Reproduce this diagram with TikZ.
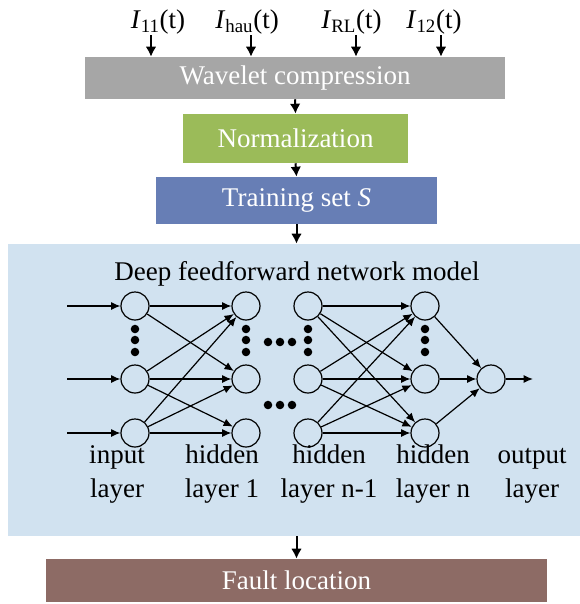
\documentclass[tikz,border=0pt]{standalone}
\usepackage{fontspec}
\setmainfont{Liberation Serif}
\usepackage{tikz}
\usepackage{xcolor}
\usetikzlibrary{arrows.meta}

\definecolor{graybox}{RGB}{166,166,166}
\definecolor{greenbox}{RGB}{155,187,89}
\definecolor{bluebox}{RGB}{103,126,181}
\definecolor{netbg}{RGB}{209,226,240}
\definecolor{brownbox}{RGB}{141,107,101}
\newcommand{\cursig}[1]{\textit{I}\textsubscript{#1}(t)}

\begin{document}
\begin{tikzpicture}[x=0.75pt, y=-0.75pt,
  every node/.style={font=\fontsize{20.25}{25.5}\selectfont},
  stage/.style={inner sep=0pt, text=white},
  flow/.style={-{Latex[length=7.5pt,width=8pt]}, line width=1.5pt},
  link/.style={-{Latex[length=7pt,width=6pt]}, line width=0.9pt},
  neuron/.style={circle, draw, line width=0.9pt, fill=netbg, minimum size=21pt, inner sep=0pt}]
  \useasboundingbox (0,0) rectangle (580,604);
  % processing stages
  \node[stage, fill=graybox, minimum width=315pt, minimum height=31.5pt] (wave) at (295,78) {Wavelet compression};
  \node[stage, fill=greenbox, minimum width=168.75pt, minimum height=36.75pt] (norm) at (295.5,138.5) {Normalization};
  \node[stage, fill=bluebox, minimum width=210.75pt, minimum height=35.25pt] (train) at (296.5,200.5) {Training set \textit{S}};
  \node[fill=netbg, minimum width=429pt, minimum height=219pt, inner sep=0pt] (model) at (294,390) {};
  \node[stage, fill=brownbox, minimum width=375.75pt, minimum height=32.25pt] (fault) at (296.5,580.5) {Fault location};
  % measured currents
  \node[anchor=base] (i11) at (158,28) {\cursig{11}};
  \node[anchor=base] (ihau) at (247,28) {\cursig{hau}};
  \node[anchor=base] (irl) at (351.5,28) {\cursig{RL}};
  \node[anchor=base] (i12) at (434,28) {\cursig{12}};
  \foreach \n/\x in {i11/151, ihau/251, irl/356, i12/441} {
    \coordinate (a\n) at (\x,35);
    \draw[flow] (a\n) -- (a\n |- wave.north);
  }
  \draw[flow] (wave.south) -- (norm.north);
  \draw[flow] (norm.south) -- (train.north);
  \draw[flow] (train.south) -- (train.south |- model.north);
  \draw[flow] (model.south -| fault.north) -- (fault.north);
  % network
  \node[anchor=base] (title) at (297,280) {Deep feedforward network model};
  \foreach \l/\x in {in/135, ha/246, hb/308, hc/425}
    \foreach \r/\y in {1/306, 2/379, 3/433}
      \node[neuron] (\l\r) at (\x,\y) {};
  \node[neuron] (out) at (491,379) {};
  \foreach \x in {135,246,308,425}
    \foreach \y in {329,340,352}
      \fill (\x,\y) circle[radius=3.2pt];
  \foreach \x in {268,280,292} {
    \fill (\x,342) circle[radius=3.2pt];
    \fill (\x,405) circle[radius=3.2pt];
  }
  \foreach \r/\y in {1/306, 2/379, 3/433} {
    \coordinate (src\r) at (67,\y);
    \draw[link] (src\r) -- (in\r);
  }
  \foreach \a/\b in {1/1,1/2,2/1,2/2,2/3,3/1,3/2,3/3}
    \draw[link] (in\a) -- (ha\b);
  \foreach \a in {1,2,3}
    \foreach \b in {1,2,3}
      \draw[link] (hb\a) -- (hc\b);
  \foreach \a in {1,2,3}
    \draw[link] (hc\a) -- (out);
  \coordinate (sink) at (533,379);
  \draw[link] (out) -- (sink);
  % layer names
  \node[align=center, anchor=base] (linput) at (117,497) {input\\layer};
  \node[align=center, anchor=base] (lha) at (222,497) {hidden\\layer 1};
  \node[align=center, anchor=base] (lhb) at (329,497) {hidden\\layer n-1};
  \node[align=center, anchor=base] (lhc) at (433,497) {hidden\\layer n};
  \node[align=center, anchor=base] (lout) at (532,497) {output\\layer};
\end{tikzpicture}
\end{document}
